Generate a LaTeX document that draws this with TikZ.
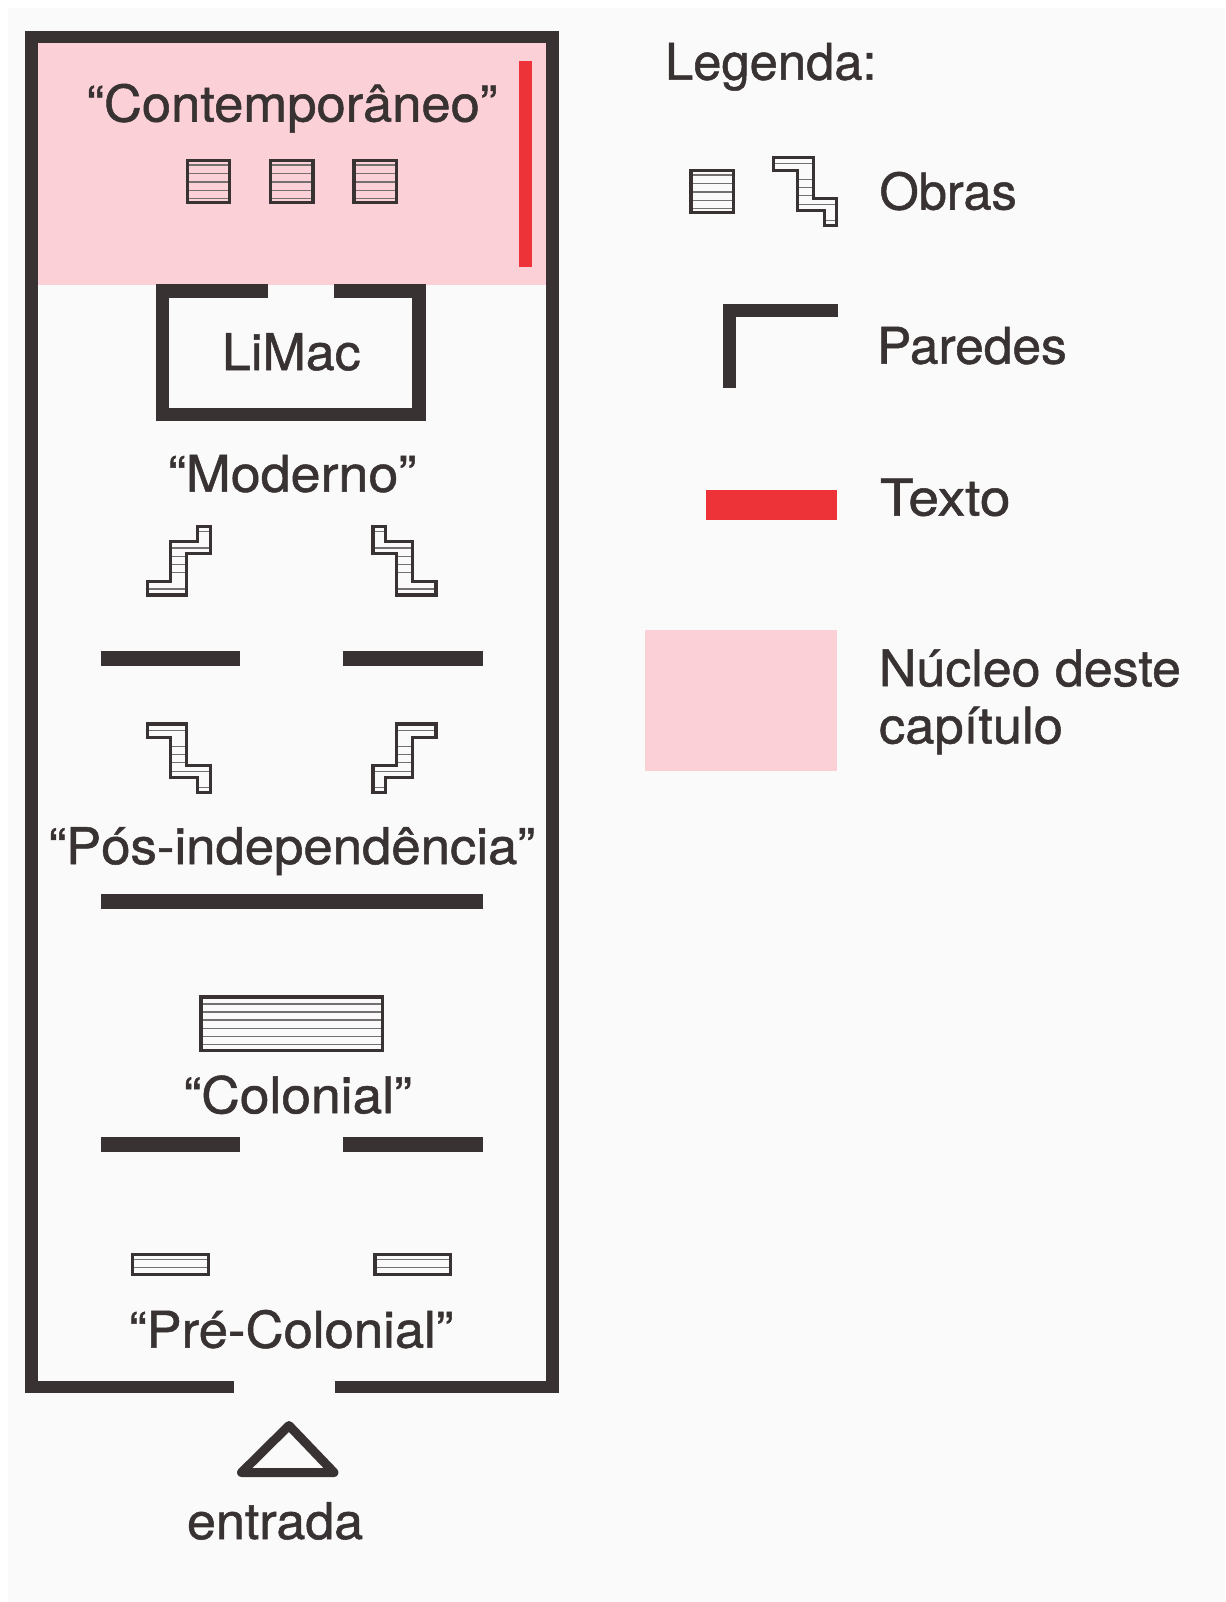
\documentclass[tikz,border=0pt]{standalone}
\usepackage{graphicx}
\usepackage{fontspec}
\setmainfont[FakeBold=1.0]{TeX Gyre Heros}
\definecolor{ink}{HTML}{383332}
\definecolor{pinkfill}{HTML}{FBD0D7}
\definecolor{redbar}{HTML}{EE3338}
\definecolor{paper}{HTML}{FAFAFA}
\newcommand{\tw}[2]{\scalebox{#1}[1]{#2}}
\newcommand{\hatchbox}[5]{%
  \foreach \yy in {#5} {\draw[hatchline] (#1,\yy) -- (#3,\yy);}
  \draw[workline] (#1+1.6,#2+1.6) rectangle (#3-1.6,#4-1.6);
}
\newcommand{\stairwork}[4]{%
  \begin{scope}[shift={(#1,#2)},xscale=#3,yscale=#4]
    \begin{scope}
      \clip (-33.15,-35.85) -- (8.05,-35.85) -- (8.05,7.35) -- (33.15,7.35) -- (33.15,35.85) -- (19.05,35.85) -- (19.05,19.35) -- (-7.95,19.35) -- (-7.95,-21.05) -- (-33.15,-21.05) -- cycle;
      \foreach \yy in {-28.15,-11.85,-3.85,4.45,12.85,29.45} {\draw[hatchline] (-33.15,\yy) -- (33.15,\yy);}
    \end{scope}
    \draw[workline] (-31.55,-34.25) -- (8.05,-34.25) -- (8.05,7.35) -- (31.55,7.35) -- (31.55,34.25) -- (19.05,34.25) -- (19.05,19.35) -- (-7.95,19.35) -- (-7.95,-21.05) -- (-31.55,-21.05) -- cycle;
  \end{scope}
}
\tikzset{
  wall/.style={fill=ink,draw=none},
  workline/.style={draw=ink,line width=3.2pt,miter limit=10},
  hatchline/.style={draw=ink!70,line width=1.1pt},
  lbl/.style={anchor=base west,inner sep=0pt,outer sep=0pt,text=ink,font=\fontsize{50.5}{60}\selectfont},
}
\begin{document}
\begin{tikzpicture}[x=1pt,y=-1pt]
\useasboundingbox (0,0) rectangle (1225,1602);
\fill[white] (0,0) rectangle (1225,1602);
\fill[paper] (8,8) rectangle (1225,1602);
% pink core
\fill[pinkfill] (37.5,42.7) rectangle (546,285);
% outer wall
\fill[wall] (25,30.7) rectangle (558.5,42.7);
\fill[wall] (25,30.7) rectangle (37.5,1393);
\fill[wall] (546,30.7) rectangle (558.5,1393);
\fill[wall] (25,1381) rectangle (233.8,1393);
\fill[wall] (335.3,1381) rectangle (558.5,1393);
% red text bar
\fill[redbar] (519.3,60.7) rectangle (532,267);
% LiMac room
\fill[wall] (155.6,284.3) rectangle (268,297.7);
\fill[wall] (333.8,284.3) rectangle (425.5,297.7);
\fill[wall] (155.6,284.3) rectangle (169,421.3);
\fill[wall] (412,284.3) rectangle (425.5,421.3);
\fill[wall] (155.6,408) rectangle (425.5,421.3);
% interior walls
\fill[wall] (100.7,651.3) rectangle (240.3,666);
\fill[wall] (342.7,651.3) rectangle (482.7,666);
\fill[wall] (100.7,894) rectangle (482.7,908.5);
\fill[wall] (100.7,1136.7) rectangle (240.3,1152);
\fill[wall] (342.7,1136.7) rectangle (482.7,1152);
% square works
\hatchbox{185.5}{159}{231}{204}{165,173.7,182,190.3,198.7}
\hatchbox{269}{159}{314.5}{204}{165,173.7,182,190.3,198.7}
\hatchbox{352.4}{159}{398}{204}{165,173.7,182,190.3,198.7}
% stairs
\stairwork{178.7}{560.8}{1}{-1}
\stairwork{404.5}{560.8}{-1}{-1}
\stairwork{178.7}{758.2}{1}{1}
\stairwork{404.5}{758.2}{-1}{1}
% long works
\hatchbox{199.3}{995.3}{383.7}{1052.3}{1004,1012,1020,1028.7,1036.7,1044.7}
\hatchbox{131}{1253}{209.7}{1276.3}{1259.3,1267.3}
\hatchbox{373.3}{1253}{452.3}{1276.3}{1259.3,1267.3}
% entrance
\draw[draw=ink,line width=9pt,line join=round] (241.5,1472.5) -- (289,1425.5) -- (334,1472.5) -- cycle;
% labels in the plan
\node[lbl] (contemporaneo) at (86.5,121.5) {\tw{1.04}{“Contemporâneo”}};
\node[lbl] (limac) at (222,370) {\tw{1.03}{LiMac}};
\node[lbl] (moderno) at (168,491.7) {\tw{1.066}{“Moderno”}};
\node[lbl] (posind) at (48.5,864) {\tw{1.044}{“Pós-independência”}};
\node[lbl] (colonial) at (183.5,1113.2) {\tw{1.057}{“Colonial”}};
\node[lbl] (precolonial) at (129,1347.6) {\tw{1.043}{“Pré-Colonial”}};
\node[lbl] (entrada) at (187,1539) {\tw{1.03}{entrada}};
% legend
\node[lbl] (legenda) at (665,79.7) {\tw{1.005}{Legenda:}};
\hatchbox{689.3}{169}{734.7}{214}{175,183.7,192,200.3,208.7}
\stairwork{805.2}{191.5}{1}{1}
\node[lbl] (obras) at (879.5,209.5) {Obras};
\fill[wall] (722.5,304) rectangle (838,316.8);
\fill[wall] (722.5,304) rectangle (735.5,388.2);
\node[lbl] (paredes) at (877,363.7) {\tw{1.02}{Paredes}};
\fill[redbar] (706,490.4) rectangle (836.8,520);
\node[lbl] (texto) at (880,515.5) {\tw{1.09}{Texto}};
\fill[pinkfill] (644.7,630.4) rectangle (836.8,771.4);
\node[lbl] (nucleo) at (879,686.2) {\tw{1.028}{Núcleo deste}};
\node[lbl] (capitulo) at (879,743.4) {\tw{1.04}{capítulo}};
\end{tikzpicture}
\end{document}
